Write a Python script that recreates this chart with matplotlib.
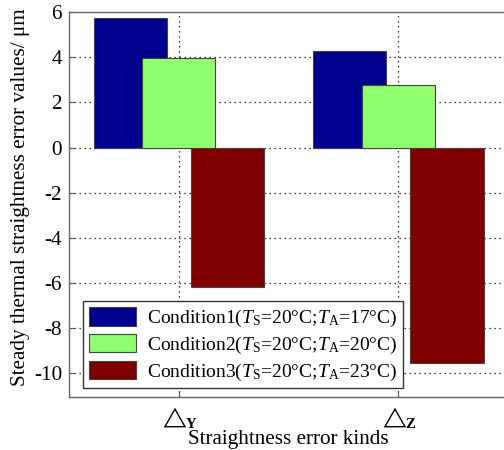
import numpy as np
import matplotlib.pyplot as plt

plt.rcParams['font.family'] = ['Liberation Serif', 'DejaVu Serif', 'DejaVu Sans']
plt.rcParams['mathtext.fontset'] = 'custom'
plt.rcParams['mathtext.rm'] = 'Liberation Serif'
plt.rcParams['mathtext.it'] = 'Liberation Serif:italic'
plt.rcParams['mathtext.bf'] = 'Liberation Serif:bold'
plt.rcParams['mathtext.fallback'] = 'stix'
plt.rcParams['axes.unicode_minus'] = False

# datos
kinds = [r'$\triangle_{\!\!\mathbf{Y}}$', r'$\triangle_{\!\!\mathbf{Z}}$']
cond1 = [5.72, 4.3]
cond2 = [3.95, 2.78]
cond3 = [-6.2, -9.55]
labels = [
    r'Condition1($\mathit{T}$$_{\rm S}$=20°C;$\mathit{T}$$_{\rm A}$=17°C)',
    r'Condition2($\mathit{T}$$_{\rm S}$=20°C;$\mathit{T}$$_{\rm A}$=20°C)',
    r'Condition3($\mathit{T}$$_{\rm S}$=20°C;$\mathit{T}$$_{\rm A}$=23°C)',
]
colores = ['#00008f', '#8fff70', '#800000']
fs = 15.2

fig = plt.figure(figsize=(5.04, 4.5), dpi=100)
ax = fig.add_axes([0.137, 0.118, 0.871, 0.855])

x = np.arange(1, len(kinds) + 1)
w = 0.333
for i, (vals, c, lab) in enumerate(zip([cond1, cond2, cond3], colores, labels)):
    ax.bar(x + (i - 1) * 0.222, vals, w, color=c, edgecolor='#444444',
           linewidth=0.8, label=lab, zorder=2 + i)

ax.set_xlim(0.5, 2.5)
ax.set_ylim(-11.05, 6)
ax.set_yticks(np.arange(-10, 7, 2))
ax.set_xticks(x)
ax.set_xticklabels(kinds, fontsize=15)
ax.grid(True, color='black', linestyle=(0, (1, 3)), linewidth=0.9, zorder=1)
ax.set_axisbelow(True)
ax.tick_params(direction='in', length=4, color='#555555', pad=5)
ax.tick_params(axis='y', labelsize=fs)
ax.tick_params(axis='x', pad=6)
for s in ax.spines.values():
    s.set_color('#666666')
    s.set_linewidth(1.0)

ax.set_xlabel('Straightness error kinds', fontsize=fs, labelpad=0)
ax.set_ylabel('Steady thermal straightness error values/ μm', fontsize=fs)
ax.yaxis.set_label_coords(-0.09, 0.518)

leg = ax.legend(loc='lower left', bbox_to_anchor=(0.032, 0.022), fontsize=14,
                fancybox=False, framealpha=1, edgecolor='#333333',
                handlelength=2.4, handleheight=1.1, labelspacing=0.25,
                borderpad=0.3, handletextpad=0.6, borderaxespad=0)
leg.get_frame().set_linewidth(1.0)
leg.set_zorder(10)

fig.savefig('out.png', dpi=100)
